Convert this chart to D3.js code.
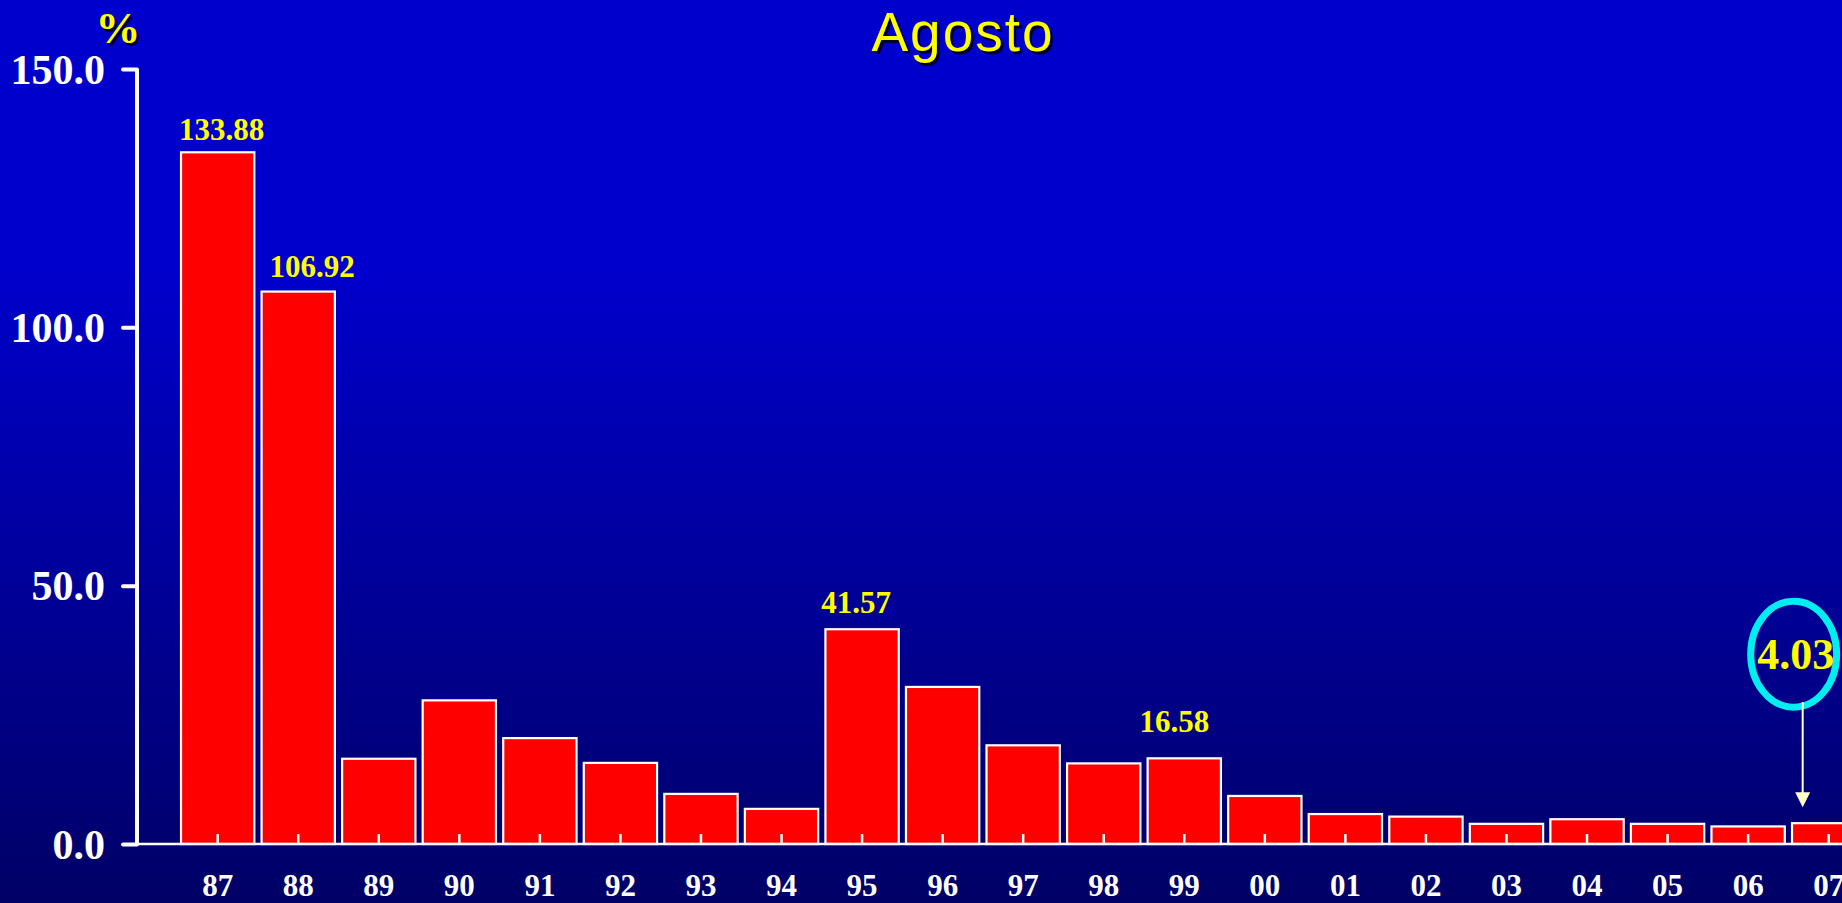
<!DOCTYPE html>
<html>
<head>
<meta charset="utf-8">
<script src="https://cdn.jsdelivr.net/npm/d3@7"></script>
<style>
  html, body { margin: 0; padding: 0; overflow: hidden; background: #0000cc; }
  svg { display: block; }
</style>
</head>
<body>
<svg id="chart" width="1842" height="903"></svg>
<script>
// ---- data ----
const title = "Agosto";
const unitLabel = "%";
const years = ["87","88","89","90","91","92","93","94","95","96","97","98","99","00","01","02","03","04","05","06","07"];
const values = [133.88,106.92,16.5,27.8,20.5,15.7,9.7,6.8,41.57,30.4,19.1,15.6,16.58,9.3,5.8,5.3,3.9,4.8,3.9,3.4,4.03];
const labeledYears = ["87","88","95","99"];
const highlightYear = "07";
const yTicks = [0, 50, 100, 150];

// ---- drawing ----
const W = 1842, H = 903;
const svg = d3.select("#chart");

const defs = svg.append("defs");
const grad = defs.append("linearGradient").attr("id", "bg").attr("x1", 0).attr("y1", 0).attr("x2", 0).attr("y2", 1);
grad.append("stop").attr("offset", "0%").attr("stop-color", "#0000cc");
grad.append("stop").attr("offset", "30%").attr("stop-color", "#0000cc");
grad.append("stop").attr("offset", "100%").attr("stop-color", "#000066");
svg.append("rect").attr("width", W).attr("height", H).attr("fill", "url(#bg)");

const step = 80.55;
const x0 = 177.4;
const x = d3.scaleBand().domain(years).range([x0, x0 + step * years.length])
  .paddingInner(0.09).paddingOuter(0.045);
const y = d3.scaleLinear().domain([0, 150]).range([844, 69]);
const axisX = 137;
const xc = d => x(d) + x.bandwidth() / 2;

const serif = "'Liberation Serif', 'Times New Roman', serif";

// text with drop shadow
function shadowText(g, txt, px, py, opts) {
  const t1 = g.append("text").attr("x", px + 2.5).attr("y", py + 2.5).text(txt).attr("fill", "#00002a");
  const t2 = g.append("text").attr("x", px).attr("y", py).text(txt).attr("fill", "#ffff00");
  [t1, t2].forEach(t => { for (const k in opts) t.attr(k, opts[k]); });
}
shadowText(svg, title, 963, 51, {"text-anchor": "middle", "font-family": "'Liberation Sans', Arial, sans-serif", "font-size": 55, "letter-spacing": 2});
shadowText(svg, unitLabel, 118, 43, {"text-anchor": "middle", "font-family": serif, "font-weight": "bold", "font-size": 45});

// bars
svg.append("g").selectAll("rect").data(years).join("rect")
  .attr("x", d => x(d))
  .attr("width", x.bandwidth())
  .attr("y", (d, i) => y(values[i]))
  .attr("height", (d, i) => y(0) - y(values[i]))
  .attr("fill", "#ff0000")
  .attr("stroke", "#ffffff")
  .attr("stroke-width", 2.2);

// x axis
const gx = svg.append("g").attr("transform", `translate(0,${y(0)})`)
  .call(d3.axisBottom(x).tickSize(-10).tickSizeOuter(0));
gx.select(".domain").remove();
gx.selectAll(".tick line").attr("stroke", "#ffffff").attr("stroke-width", 2.5);
gx.selectAll(".tick text")
  .attr("y", 52).attr("dy", 0)
  .attr("fill", "#ffffff")
  .attr("font-family", serif).attr("font-weight", "bold").attr("font-size", 31);
svg.append("line")
  .attr("x1", axisX).attr("x2", W + 10)
  .attr("y1", y(0)).attr("y2", y(0))
  .attr("stroke", "#ffffff").attr("stroke-width", 2.5);

// y axis
const gy = svg.append("g").attr("transform", `translate(${axisX},0)`)
  .call(d3.axisLeft(y).tickValues(yTicks).tickFormat(d3.format(".1f")).tickSize(14).tickPadding(18).tickSizeOuter(0));
gy.select(".domain").attr("stroke", "#ffffff").attr("stroke-width", 4)
  .attr("d", `M0,${y(150)}V${y(0)}`);
gy.selectAll(".tick line").attr("stroke", "#ffffff").attr("stroke-width", 4).attr("stroke-linecap", "round");
gy.selectAll(".tick text")
  .attr("fill", "#ffffff")
  .attr("font-family", serif).attr("font-weight", "bold").attr("font-size", 42)
  .attr("dy", "0.34em");

// value labels (small per-label nudges to follow the original slide)
const labelGap = {"87": 12, "88": 15, "95": 16, "99": 26};
const labelDx = {"87": 4, "88": 14, "95": -6, "99": -10};
svg.append("g").selectAll("text").data(labeledYears).join("text")
  .attr("x", d => xc(d) + (labelDx[d] || 0))
  .attr("y", d => y(values[years.indexOf(d)]) - (labelGap[d] || 14))
  .attr("text-anchor", "middle")
  .attr("fill", "#ffff00")
  .attr("font-family", serif).attr("font-weight", "bold").attr("font-size", 31)
  .text(d => values[years.indexOf(d)].toFixed(2));

// highlight annotation
const hv = values[years.indexOf(highlightYear)];
const hx = xc(highlightYear);
const cx = hx - 35, cy = y(hv) - 169;
const rx = 43, ry = 53;
const ax = hx - 26;
svg.append("ellipse").attr("cx", cx).attr("cy", cy).attr("rx", rx).attr("ry", ry)
  .attr("fill", "none").attr("stroke", "#00eef0").attr("stroke-width", 7);
svg.append("text").attr("x", cx + 2).attr("y", cy + 15)
  .attr("text-anchor", "middle").attr("fill", "#ffff00")
  .attr("font-family", serif).attr("font-weight", "bold").attr("font-size", 44)
  .text(hv.toFixed(2));
const tipY = y(hv) - 16;
svg.append("line").attr("x1", ax).attr("x2", ax).attr("y1", cy + ry - 5).attr("y2", tipY - 10)
  .attr("stroke", "#ffffcc").attr("stroke-width", 2);
svg.append("path")
  .attr("d", `M${ax - 7.5},${tipY - 15}L${ax + 7.5},${tipY - 15}L${ax},${tipY}Z`)
  .attr("fill", "#ffffcc");
</script>
</body>
</html>
